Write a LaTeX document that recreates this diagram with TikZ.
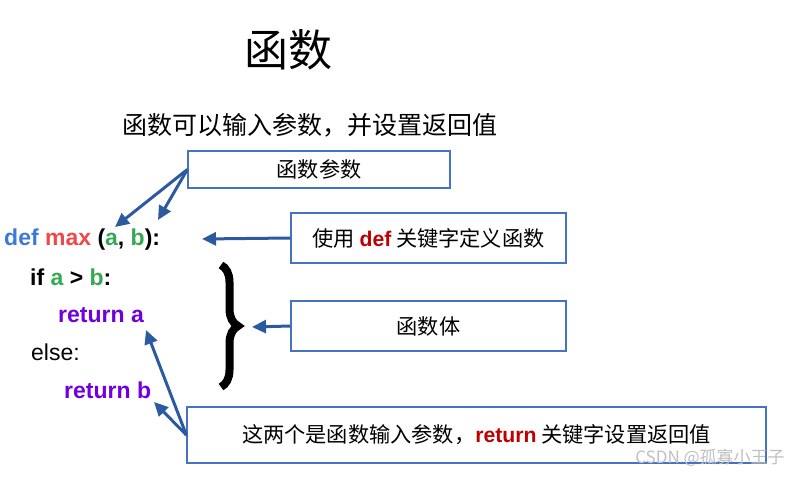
\documentclass[tikz,border=0pt]{standalone}
\usepackage{fontspec}
\setmainfont{Noto Sans CJK SC}
\newfontfamily\codefont{Liberation Sans}
\usetikzlibrary{arrows.meta,decorations.pathreplacing}

\definecolor{arrowblue}{HTML}{2C5AA0}
\definecolor{boxblue}{HTML}{4472C4}
\definecolor{kwblue}{HTML}{3C78D8}
\definecolor{fnred}{HTML}{EF4848}
\definecolor{argreen}{HTML}{34A853}
\definecolor{retpurple}{HTML}{7000DD}
\definecolor{kwred}{HTML}{C00000}

\newcommand{\kw}[1]{{\codefont\bfseries\color{kwred}#1}}

\tikzset{
  note/.style={draw=boxblue, line width=1.3pt, inner sep=0pt, align=center,
    font=\fontsize{21.2}{25}\selectfont},
  code/.style={anchor=west, inner sep=0pt, font=\codefont\bfseries\fontsize{23}{27}\selectfont},
  pointer/.style={draw=arrowblue, line width=3pt, -{Triangle[length=14pt,width=13pt]}},
}

\begin{document}
\begin{tikzpicture}[x=1pt, y=-1pt]
  \useasboundingbox (0,0) rectangle (810,476);

  \node (title) at (288,50) {\fontsize{44}{50}\selectfont 函数};
  \node (sub) at (310,125) {\fontsize{25}{30}\selectfont 函数可以输入参数，并设置返回值};

  \node[code] (defline) at (4,240) {\color{kwblue}def \color{fnred}max \color{black}(\color{argreen}a\color{black}, \color{argreen}b\color{black}):};
  \node[code] (ifline) at (30,277) {if \color{argreen}a \color{black}> \color{argreen}b\color{black}:};
  \node[code, text=retpurple] (reta) at (58,315) {return a};
  \node[code, font=\codefont\fontsize{23}{27}\selectfont] (elseline) at (31,352) {else:};
  \node[code, text=retpurple] (retb) at (64,390) {return b};

  \node[note, minimum width=262pt, minimum height=37pt] (params) at (319,169.5) {函数参数};
  \node[note, minimum width=275pt, minimum height=50pt] (defnote) at (428.5,238) {使用 \kw{def} 关键字定义函数};
  \node[note, minimum width=275pt, minimum height=50pt] (body) at (428.5,326) {函数体};
  \node[note, minimum width=579pt, minimum height=56pt] (retnote) at (476.5,435) {这两个是函数输入参数，\kw{return} 关键字设置返回值};

  \coordinate (argA) at (115,227);
  \coordinate (argB) at (158,220);
  \coordinate (deftip) at (202,239);
  \coordinate (bracetip) at (252,327);
  \coordinate (retAtip) at (146,330);
  \coordinate (retBtip) at (154,402);

  \draw[decorate, decoration={brace, amplitude=17pt}, line width=8pt]
    (221,265) -- (221,387);

  \draw[pointer] (params.west) -- (argA);
  \draw[pointer] (params.west) -- (argB);
  \draw[pointer] (defnote.west) -- (deftip);
  \draw[pointer] (body.west) -- (bracetip);
  \draw[pointer] (retnote.west) -- (retAtip);
  \draw[pointer] (retnote.west) -- (retBtip);

  \node[text=black!25] (mark) at (710,458) {\fontsize{17}{20}\selectfont CSDN @孤寡小王子};
\end{tikzpicture}
\end{document}
